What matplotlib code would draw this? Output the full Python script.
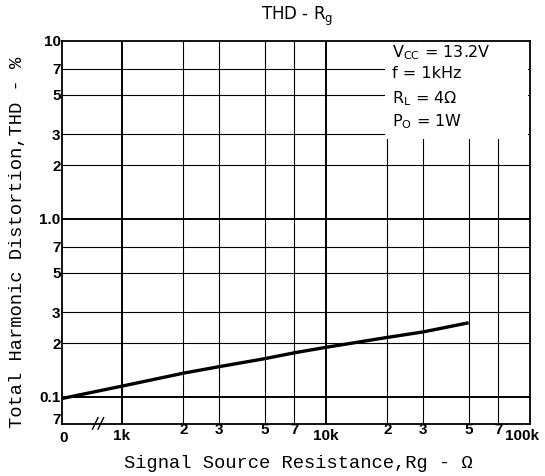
import matplotlib
matplotlib.use("Agg")
import matplotlib.pyplot as plt
import matplotlib.transforms as mtransforms
import numpy as np

# THD vs. signal source resistance (Vcc=13.2V, f=1kHz, RL=4 ohm, Po=1W)
rg_ohm = [0, 1000, 2000, 3000, 5000, 7000, 10000, 20000, 30000, 50000]
thd_pct = [0.098, 0.115, 0.136, 0.148, 0.164, 0.177, 0.190, 0.216, 0.232, 0.261]

x_ticks = [1e3, 2e3, 3e3, 5e3, 7e3, 1e4, 2e4, 3e4, 5e4, 7e4, 1e5]
x_tick_labels = ["1k", "2", "3", "5", "7", "10k", "2", "3", "5", "7", "100k"]
y_ticks = [0.07, 0.1, 0.2, 0.3, 0.5, 0.7, 1.0, 2, 3, 5, 7, 10]
y_tick_labels = ["7", "0.1", "2", "3", "5", "7", "1.0", "2", "3", "5", "7", "10"]
major_x = [1e3, 1e4]
major_y = [0.1, 1.0]

conditions = ["V$_{\\rm CC}$ = 13.2V", "f = 1kHz", "R$_{\\rm L}$ = 4$\\Omega$", "P$_{\\rm O}$ = 1W"]

# the "0" ohm point sits at the broken left edge of the log axis
X_ZERO = 508.0
X_MAX = 1e5

fig = plt.figure(figsize=(5.45, 4.76), dpi=100)
ax = fig.add_axes([0.1138, 0.1082, 0.8587, 0.8057])
ax.set_xscale("log")
ax.set_yscale("log")
ax.set_xlim(X_ZERO, X_MAX)
ax.set_ylim(0.07, 10)

# grid drawn by hand so decades can be heavier
for xv in x_ticks[:-1]:
    ax.axvline(xv, color="black", lw=1.4 if xv in major_x else 0.8, zorder=1)
for yv in y_ticks[1:-1]:
    ax.axhline(yv, color="black", lw=1.4 if yv in major_y else 0.8, zorder=1)

x_plot = np.where(np.array(rg_ohm) == 0, X_ZERO, rg_ohm)
ax.plot(x_plot, thd_pct, color="black", lw=2.4, solid_capstyle="butt", zorder=3)

for sp in ax.spines.values():
    sp.set_linewidth(1.3)

ax.set_xticks([X_ZERO] + x_ticks)
ax.set_xticklabels(["0"] + x_tick_labels)
ax.set_yticks(y_ticks)
ax.set_yticklabels(y_tick_labels)
ax.xaxis.set_minor_locator(matplotlib.ticker.NullLocator())
ax.yaxis.set_minor_locator(matplotlib.ticker.NullLocator())
ax.tick_params(axis="y", length=0, pad=1, labelsize=11)
ax.tick_params(axis="x", length=0, pad=3, labelsize=11)
xlabels = ax.get_xticklabels()
ylabels = ax.get_yticklabels()
for lbl in xlabels + ylabels:
    lbl.set_fontfamily("Liberation Sans")
    lbl.set_fontweight("bold")
# decade labels sit a little lower than the in-between digits
for lbl in xlabels:
    if lbl.get_text() in ("2", "3", "5", "7"):
        lbl.set_y(0.016)

# nudge the corner labels apart and keep 100k inside the figure
def nudge(lbl, dx, dy):
    lbl.set_transform(lbl.get_transform() +
                      mtransforms.ScaledTranslation(dx / 72, dy / 72, fig.dpi_scale_trans))

nudge(ylabels[0], 0, 4)
nudge(xlabels[0], 1, -2)
nudge(xlabels[-1], -6, 0)

# axis break mark between 0 and 1k
for dx in (0.0, 0.012):
    ax.plot([0.065 + dx, 0.077 + dx], [-0.012, 0.018], transform=ax.transAxes,
            color="black", lw=1.0, clip_on=False, zorder=4)

# condition block in the upper right corner
ax.add_patch(plt.Rectangle((0.69, 0.745), 0.305, 0.253, transform=ax.transAxes,
                           facecolor="white", edgecolor="none", zorder=2))
for i, txt in enumerate(conditions):
    ax.text(0.705, 0.995 - i * 0.06, txt, transform=ax.transAxes, ha="left", va="top",
            fontsize=11.5, family="DejaVu Sans", zorder=5)

fig.text(0.545, 0.965, "THD - R$_{\\rm g}$", ha="center", va="center", fontsize=12,
         family="DejaVu Sans")
fig.text(0.547, 0.027, "Signal Source Resistance,Rg - \u03a9", ha="center", va="center",
         fontsize=13.5, family="Liberation Mono")
fig.text(0.033, 0.49, "Total Harmonic Distortion,THD - %", ha="center", va="center",
         rotation=90, fontsize=13.5, family="Liberation Mono")

fig.savefig("out.png", dpi=100)
